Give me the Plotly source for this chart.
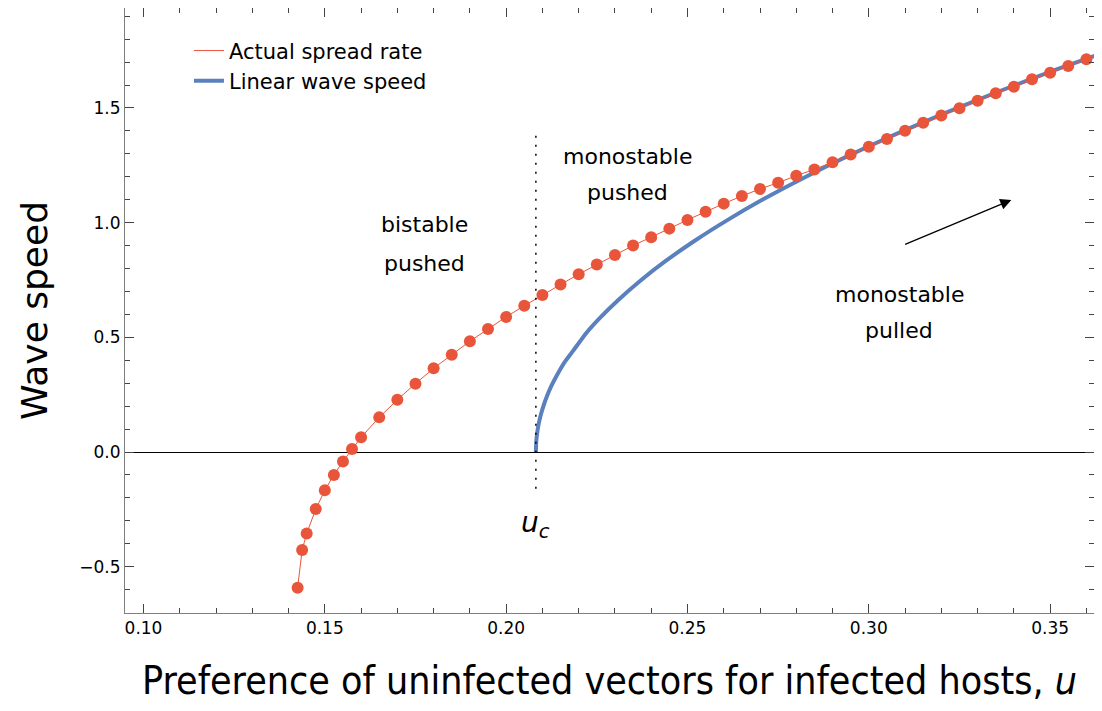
import plotly.graph_objects as go

# ---------------------------------------------------------
# data
# ---------------------------------------------------------
u_actual = [0.1425, 0.14375, 0.145, 0.1475, 0.15, 0.1525, 0.155, 0.1575, 0.16,
            0.165, 0.17, 0.175, 0.18, 0.185, 0.19, 0.195, 0.20, 0.205, 0.21,
            0.215, 0.22, 0.225, 0.23, 0.235, 0.24, 0.245, 0.25, 0.255, 0.26,
            0.265, 0.27, 0.275, 0.28, 0.285, 0.29, 0.295, 0.30, 0.305, 0.31,
            0.315, 0.32, 0.325, 0.33, 0.335, 0.34, 0.345, 0.35, 0.355, 0.36,
            0.365]
speed_actual = [-0.592, -0.427, -0.355, -0.249, -0.167, -0.100, -0.041, 0.013, 0.064,
                0.151, 0.228, 0.298, 0.365, 0.424, 0.483, 0.536, 0.589, 0.638, 0.685,
                0.730, 0.775, 0.818, 0.859, 0.900, 0.936, 0.974, 1.012, 1.048, 1.083,
                1.116, 1.147, 1.174, 1.205, 1.232, 1.263, 1.297, 1.331, 1.365, 1.401,
                1.436, 1.467, 1.499, 1.532, 1.564, 1.593, 1.625, 1.654, 1.683, 1.713,
                1.742]

u_linear = [0.2082, 0.2083, 0.2085, 0.2088, 0.2092, 0.2097, 0.2104, 0.2113, 0.2125,
            0.214, 0.216, 0.2185, 0.222, 0.226, 0.231, 0.237, 0.244, 0.252, 0.261,
            0.271, 0.282, 0.294, 0.307, 0.321, 0.336, 0.352, 0.3645]
speed_linear = [0.0, 0.044, 0.076, 0.108, 0.139, 0.170, 0.206, 0.245, 0.289,
                0.335, 0.389, 0.442, 0.517, 0.587, 0.664, 0.747, 0.833, 0.921, 1.011,
                1.103, 1.195, 1.289, 1.383, 1.478, 1.573, 1.669, 1.740]

u_c = 0.2082

x_ticks = [0.10, 0.15, 0.20, 0.25, 0.30, 0.35]
y_ticks = [-0.5, 0.0, 0.5, 1.0, 1.5]

RED = "#E9553A"
BLUE = "#5B80BE"
FONT = "DejaVu Sans"

fig = go.Figure()

# main curves
fig.add_trace(go.Scatter(
    x=u_linear, y=speed_linear,
    mode="lines", line=dict(color=BLUE, width=4, shape="spline", smoothing=0.5),
    showlegend=False
))
fig.add_trace(go.Scatter(
    x=u_actual, y=speed_actual,
    mode="lines+markers",
    line=dict(color=RED, width=1),
    marker=dict(color=RED, size=12),
    showlegend=False
))

# legend entries (line only, like the original)
fig.add_trace(go.Scatter(x=[None], y=[None], mode="lines",
                         line=dict(color=RED, width=1), name="Actual spread rate"))
fig.add_trace(go.Scatter(x=[None], y=[None], mode="lines",
                         line=dict(color=BLUE, width=4), name="Linear wave speed"))

# critical preference marker
fig.add_shape(type="line", x0=u_c, x1=u_c, y0=-0.16, y1=1.40,
              line=dict(color="black", width=1.5, dash="2px,7px"))

# region labels, one annotation per line to get the wider line spacing
labels = [
    (0.1774, 0.990, "bistable"), (0.1774, 0.824, "pushed"),
    (0.2334, 1.287, "monostable"), (0.2334, 1.130, "pushed"),
    (0.3084, 0.685, "monostable"), (0.3084, 0.528, "pulled"),
]
for lx, ly, txt in labels:
    fig.add_annotation(x=lx, y=ly, text=txt, showarrow=False,
                       font=dict(family=FONT, size=22, color="black"))

fig.add_annotation(x=u_c, y=-0.318, text="<i>u<sub>c</sub></i>", showarrow=False,
                   font=dict(family=FONT, size=28, color="black"))

# arrow
fig.add_annotation(x=0.3393, y=1.099, ax=0.3096, ay=0.903,
                   xref="x", yref="y", axref="x", ayref="y",
                   text="", showarrow=True, arrowhead=2, arrowsize=1.7,
                   arrowwidth=1.3, arrowcolor="black")

axis_common = dict(
    showline=True, linecolor="#7f7f7f", linewidth=1, mirror="ticks",
    ticks="inside", ticklen=9, tickcolor="#444444", tickwidth=1,
    showgrid=False, automargin=False,
    tickfont=dict(family=FONT, size=17, color="black"),
)

fig.update_xaxes(
    range=[0.0949, 0.3621],
    tickvals=x_ticks, ticktext=[f"{t:.2f}" for t in x_ticks],
    minor=dict(ticks="inside", dtick=0.01, tick0=0.1, ticklen=5, tickcolor="#444444"),
    zeroline=False,
    title=dict(text="Preference of uninfected vectors for infected hosts, <i>u</i>",
               font=dict(family="DejaVu Sans Condensed, " + FONT, size=39, color="black"),
               standoff=37),
    **axis_common
)
fig.update_yaxes(
    range=[-0.702, 1.936],
    tickvals=y_ticks, ticktext=["\u22120.5", "0.0", "0.5", "1.0", "1.5"],
    minor=dict(ticks="inside", dtick=0.1, tick0=0, ticklen=5, tickcolor="#444444"),
    zeroline=True, zerolinecolor="black", zerolinewidth=1.3,
    title=dict(text="Wave speed", font=dict(family=FONT, size=36, color="black"),
               standoff=20),
    **axis_common
)

# the page body has an 8px margin; keep the figure inside the window so no
# scrollbars appear, and let the margins put the axes where the original has them
fig.update_layout(
    width=1086, height=695,
    margin=dict(l=117, r=0, t=0, b=90),
    paper_bgcolor="white", plot_bgcolor="white",
    legend=dict(x=0.066, y=0.963, xanchor="left", yanchor="top",
                bgcolor="rgba(0,0,0,0)", font=dict(family=FONT, size=21, color="black"),
                tracegroupgap=0, itemwidth=30),
    font=dict(family=FONT),
)

fig.write_html("out.html")
